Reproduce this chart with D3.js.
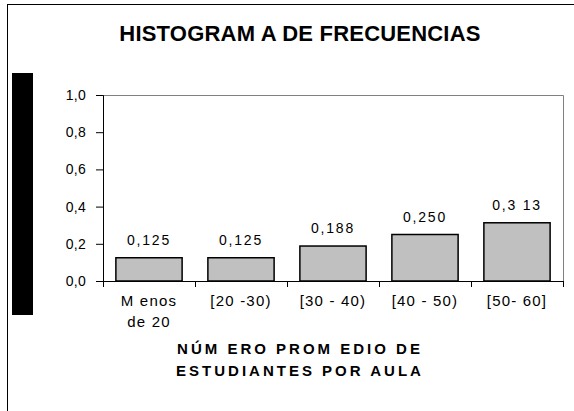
<!DOCTYPE html>
<html>
<head>
<meta charset="utf-8">
<script src="https://cdn.jsdelivr.net/npm/d3@7"></script>
<style>
  html, body { margin: 0; padding: 0; background: #fff; }
  svg { display: block; }
  text { font-family: "Liberation Sans", Arial, sans-serif; fill: #000; }
</style>
</head>
<body>
<div id="chart"></div>
<script>
const categories = ["Menos de 20", "[20 -30)", "[30 - 40)", "[40 - 50)", "[50- 60]"];
const categoryLines = [["M enos", "de 20"], ["[20 -30)"], ["[30 - 40)"], ["[40 - 50)"], ["[50- 60]"]];
const frequencies = [0.125, 0.125, 0.188, 0.250, 0.313];
const valueLabels = ["0,125", "0,125", "0,188", "0,250", "0,3 13"];
const yTicks = [0, 0.2, 0.4, 0.6, 0.8, 1.0];
const yTickLabels = ["0,0", "0,2", "0,4", "0,6", "0,8", "1,0"];
const title = "HISTOGRAM A DE FRECUENCIAS";
const xTitleLines = ["NÚM ERO PROM EDIO DE", "ESTUDIANTES POR AULA"];

const W = 574, H = 411;
const plot = { left: 103, right: 563, top: 95, bottom: 281 };

const svg = d3.select("#chart").append("svg").attr("width", W).attr("height", H);

// outer frame
svg.append("rect").attr("x", 7.5).attr("y", 4.5).attr("width", W + 10).attr("height", H + 10)
  .attr("fill", "none").attr("stroke", "#000").attr("stroke-width", 1);

// black block on the left
svg.append("rect").attr("x", 12).attr("y", 73).attr("width", 21).attr("height", 242).attr("fill", "#000");

// title
svg.append("text").attr("x", 300).attr("y", 41).attr("text-anchor", "middle")
  .attr("font-size", 22).attr("font-weight", "bold").attr("letter-spacing", 0.2).text(title);

const x = d3.scaleBand().domain(categories).range([plot.left, plot.right]).paddingInner(0.28).paddingOuter(0.14);
const y = d3.scaleLinear().domain([0, 1]).range([plot.bottom, plot.top]);

// plot frame top/right (gray)
svg.append("path").attr("d", `M${plot.left},${plot.top + 0.5}H${plot.right + 0.5}V${plot.bottom}`)
  .attr("fill", "none").attr("stroke", "#808080").attr("stroke-width", 1);

// bars
svg.append("g").selectAll("rect").data(frequencies).join("rect")
  .attr("x", (d, i) => x(categories[i]))
  .attr("y", d => y(d))
  .attr("width", x.bandwidth())
  .attr("height", d => y(0) - y(d))
  .attr("fill", "#c0c0c0").attr("stroke", "#000").attr("stroke-width", 1.5);

// value labels
svg.append("g").selectAll("text").data(frequencies).join("text")
  .attr("x", (d, i) => x(categories[i]) + x.bandwidth() / 2)
  .attr("y", d => y(d) - 13)
  .attr("text-anchor", "middle").attr("font-size", 14).attr("letter-spacing", 1.8)
  .text((d, i) => valueLabels[i]);

// y axis
const yAxis = d3.axisLeft(y).tickValues(yTicks).tickSize(7).tickPadding(10)
  .tickFormat((d, i) => yTickLabels[i]);
const gy = svg.append("g").attr("transform", `translate(${plot.left},0)`).call(yAxis);
gy.selectAll("text").attr("font-size", 14).attr("font-family", "Liberation Sans, Arial, sans-serif").attr("letter-spacing", 0.3);
gy.select(".domain").attr("stroke", "#000");

// x axis (ticks between categories)
const xAxisG = svg.append("g");
xAxisG.append("line").attr("x1", plot.left).attr("x2", plot.right + 1).attr("y1", plot.bottom + 0.5).attr("y2", plot.bottom + 0.5)
  .attr("stroke", "#000");
const stepX = (plot.right - plot.left) / categories.length;
xAxisG.selectAll("line.tk").data(d3.range(categories.length + 1)).join("line").attr("class", "tk")
  .attr("x1", i => plot.left + i * stepX + 0.5).attr("x2", i => plot.left + i * stepX + 0.5)
  .attr("y1", plot.bottom).attr("y2", plot.bottom + 6).attr("stroke", "#000");

// category labels
const cl = svg.append("g").selectAll("text").data(categoryLines).join("text")
  .attr("text-anchor", "middle").attr("font-size", 15).attr("letter-spacing", 1.2);
cl.each(function(lines, i) {
  const t = d3.select(this);
  lines.forEach((ln, j) => {
    t.append("tspan").attr("x", x(categories[i]) + x.bandwidth() / 2).attr("y", 306 + j * 21).text(ln);
  });
});

// x title
svg.append("g").selectAll("text").data(xTitleLines).join("text")
  .attr("x", 300).attr("y", (d, i) => 354 + i * 22).attr("text-anchor", "middle")
  .attr("font-size", 15).attr("font-weight", "bold").attr("letter-spacing", 3).text(d => d);
</script>
</body>
</html>
